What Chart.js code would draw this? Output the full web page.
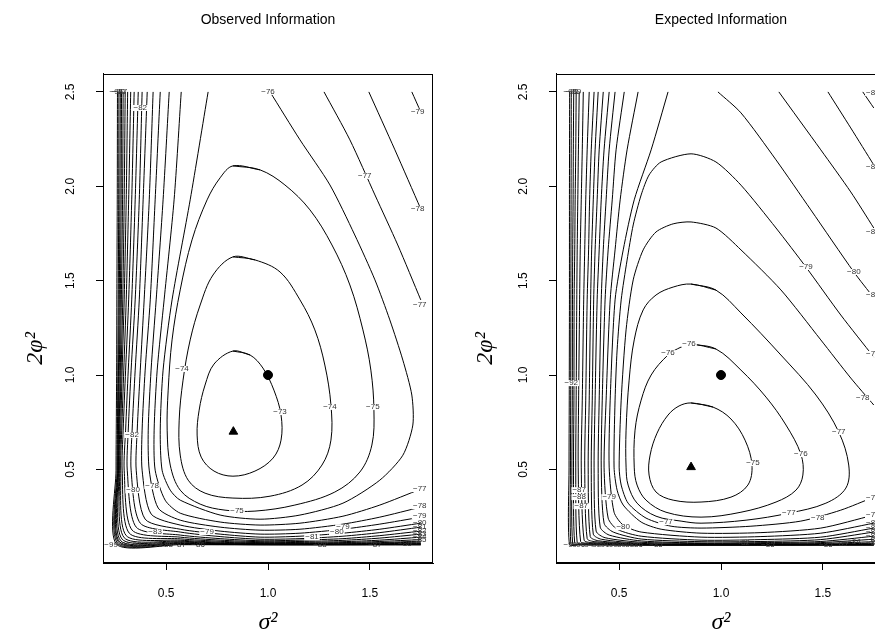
<!DOCTYPE html>
<html lang="en">
<head>
<meta charset="UTF-8">
<title>Observed vs Expected Information</title>
<style>
  html, body { margin: 0; padding: 0; background: #fff; overflow: hidden; }
  #wrap { position: relative; width: 875px; height: 639px; overflow: hidden; }
  .panel { position: absolute; top: 0; height: 639px; }
  #obsBox { left: 0; width: 460px; }
  #expBox { left: 460px; width: 440px; }
</style>
</head>
<body>
<div id="wrap">
  <div class="panel" id="obsBox"><canvas id="obsChart" width="460" height="639"></canvas></div>
  <div class="panel" id="expBox"><canvas id="expChart" width="440" height="639"></canvas></div>
</div>
<script src="https://cdn.jsdelivr.net/npm/chart.js@4.4.1/dist/chart.umd.min.js"></script>
<script>
// axis ticks
const xTicks = [0.5, 1.0, 1.5];
const yTicks = [0.5, 1.0, 1.5, 2.0, 2.5];

// maxima (triangle) and true value (circle)
const obsMax = [0.83, 0.70];
const expMax = [0.853, 0.512];
const truth = [1.0, 1.0];

// ---- Observed information: contour lines, [sigma^2, 2phi^2] ----
const obs73 = [[0.828,1.127],[0.912,1.106],[0.975,1.037],[1.029,0.920],[1.064,0.788],[1.064,0.655],[1.025,0.560],[0.936,0.491],[0.828,0.464],[0.735,0.491],[0.672,0.565],[0.652,0.682],[0.662,0.814],[0.691,0.947],[0.735,1.058]];
const obs74 = [[0.828,1.626],[0.936,1.610],[1.059,1.546],[1.157,1.398],[1.230,1.239],[1.279,1.053],[1.309,0.841],[1.309,0.655],[1.265,0.523],[1.167,0.417],[1.010,0.358],[0.828,0.348],[0.691,0.374],[0.608,0.443],[0.569,0.576],[0.564,0.761],[0.583,0.973],[0.618,1.186],[0.667,1.371],[0.730,1.530]];
const obs75 = [[0.828,2.108],[0.961,2.087],[1.083,2.007],[1.206,1.875],[1.314,1.689],[1.402,1.477],[1.466,1.239],[1.505,1.026],[1.520,0.814],[1.510,0.629],[1.451,0.486],[1.328,0.380],[1.132,0.311],[0.936,0.279],[0.789,0.284],[0.667,0.316],[0.569,0.390],[0.520,0.523],[0.505,0.708],[0.510,0.920],[0.529,1.186],[0.569,1.451],[0.627,1.716],[0.701,1.928],[0.765,2.045]];
const obs76 = [[0.706,2.5],[0.618,1.928],[0.529,1.398],[0.485,1.026],[0.471,0.708],[0.480,0.496],[0.520,0.390],[0.569,0.337],[0.765,0.258],[0.961,0.236],[1.157,0.258],[1.368,0.321],[1.549,0.443],[1.662,0.575],[1.711,0.735],[1.706,0.894],[1.662,1.079],[1.598,1.292],[1.525,1.504],[1.426,1.742],[1.304,2.007],[1.157,2.246],[1.010,2.5]];
const obs77a = [[1.275,2.5],[1.402,2.246],[1.525,1.954],[1.637,1.689],[1.75,1.398]];
const obs77b = [[0.574,2.5],[0.539,1.928],[0.490,1.398],[0.456,1.026],[0.441,0.708],[0.446,0.496],[0.495,0.337],[0.569,0.268],[0.765,0.221],[0.961,0.205],[1.157,0.215],[1.368,0.252],[1.549,0.311],[1.75,0.396]];
const obs78a = [[1.495,2.5],[1.623,2.193],[1.75,1.880]];
const obs78b = [[0.515,2.5],[0.485,1.928],[0.451,1.398],[0.426,1.026],[0.412,0.708],[0.417,0.496],[0.461,0.295],[0.569,0.231],[0.765,0.194],[0.961,0.178],[1.157,0.183],[1.368,0.210],[1.549,0.247],[1.75,0.300]];
const obs79a = [[1.706,2.5],[1.75,2.394]];
const obs79b = [[0.471,2.5],[0.446,1.928],[0.422,1.398],[0.397,1.026],[0.382,0.708],[0.382,0.496],[0.426,0.264],[0.569,0.205],[0.765,0.173],[0.961,0.157],[1.157,0.162],[1.368,0.183],[1.549,0.210],[1.75,0.247]];
const obs80 = [[0.436,2.5],[0.417,1.928],[0.392,1.398],[0.373,1.026],[0.358,0.708],[0.353,0.496],[0.397,0.236],[0.569,0.183],[0.765,0.157],[0.961,0.141],[1.157,0.146],[1.368,0.162],[1.549,0.183],[1.75,0.215]];
const obs81 = [[0.407,2.5],[0.387,1.928],[0.368,1.398],[0.348,1.026],[0.333,0.708],[0.328,0.496],[0.373,0.215],[0.569,0.168],[0.765,0.144],[0.961,0.130],[1.157,0.133],[1.368,0.146],[1.549,0.165],[1.75,0.194]];
const obs82 = [[0.382,2.5],[0.368,1.928],[0.348,1.398],[0.328,1.026],[0.314,0.708],[0.309,0.496],[0.353,0.194],[0.569,0.152],[0.765,0.133],[0.961,0.122],[1.157,0.125],[1.368,0.133],[1.549,0.149],[1.75,0.173]];
const obs83 = [[0.363,2.5],[0.348,1.928],[0.331,1.398],[0.314,1.026],[0.301,0.708],[0.294,0.496],[0.333,0.178],[0.569,0.141],[0.765,0.125],[0.961,0.117],[1.157,0.118],[1.368,0.124],[1.549,0.136],[1.75,0.157]];
const obs84 = [[0.343,2.5],[0.331,1.928],[0.316,1.398],[0.301,1.026],[0.289,0.708],[0.284,0.496],[0.319,0.162],[0.569,0.132],[0.765,0.119],[0.961,0.112],[1.157,0.113],[1.368,0.117],[1.549,0.125],[1.75,0.141]];
const obs85 = [[0.326,2.5],[0.316,1.928],[0.304,1.398],[0.292,1.026],[0.282,0.708],[0.277,0.496],[0.304,0.149],[0.569,0.125],[0.765,0.114],[0.961,0.109],[1.157,0.109],[1.368,0.112],[1.549,0.118],[1.75,0.128]];
const obs86 = [[0.311,2.5],[0.304,1.928],[0.294,1.398],[0.284,1.026],[0.277,0.708],[0.272,0.496],[0.294,0.138],[0.569,0.120],[0.765,0.110],[0.961,0.107],[1.157,0.107],[1.368,0.109],[1.549,0.112],[1.75,0.120]];
const obs87 = [[0.299,2.5],[0.294,1.928],[0.287,1.398],[0.279,1.026],[0.272,0.708],[0.269,0.496],[0.284,0.130],[0.569,0.116],[0.765,0.108],[0.961,0.104],[1.157,0.104],[1.368,0.106],[1.549,0.109],[1.75,0.115]];
const obs88 = [[0.289,2.5],[0.286,1.928],[0.280,1.398],[0.275,1.026],[0.269,0.708],[0.266,0.496],[0.277,0.122],[0.569,0.112],[0.765,0.106],[0.961,0.103],[1.157,0.103],[1.368,0.104],[1.549,0.106],[1.75,0.110]];
const obs89 = [[0.281,2.5],[0.279,1.928],[0.275,1.398],[0.270,1.026],[0.266,0.708],[0.264,0.496],[0.271,0.117],[0.569,0.109],[0.765,0.104],[0.961,0.102],[1.368,0.102],[1.549,0.104],[1.75,0.107]];
const obs90 = [[0.275,2.5],[0.273,1.928],[0.270,1.398],[0.266,1.026],[0.264,0.708],[0.262,0.496],[0.267,0.113],[0.569,0.107],[0.765,0.103],[0.961,0.101],[1.368,0.101],[1.549,0.102],[1.75,0.104]];
const obs93 = [[0.268,2.5],[0.267,1.928],[0.265,1.398],[0.263,1.026],[0.261,0.708],[0.259,0.496],[0.262,0.108],[0.569,0.103],[0.961,0.101],[1.75,0.101]];
const obs97 = [[0.261,2.5],[0.260,1.928],[0.258,1.398],[0.257,1.026],[0.255,0.708],[0.254,0.496],[0.256,0.104],[0.569,0.101],[1.75,0.1]];

const obsLabels = [[1.059,0.804,'−73'],[1.304,0.831,'−74'],[0.578,1.032,'−74'],[1.515,0.831,'−75'],[0.848,0.279,'−75'],
  [1.0,2.5,'−76'],[1.475,2.055,'−77'],[1.745,1.371,'−77'],[1.735,1.880,'−78'],[1.735,2.394,'−79'],
  [0.373,2.415,'−82'],[0.333,0.682,'−82'],[0.431,0.411,'−78'],[0.338,0.390,'−80'],[0.701,0.168,'−79'],
  [1.368,0.194,'−79'],[1.338,0.168,'−80'],[1.216,0.141,'−81'],[0.446,0.168,'−83'],
  [1.745,0.396,'−77'],[1.745,0.305,'−78'],[1.745,0.252,'−79']];
const obsCrowdLabels = [[1.745,0.215,'−80'],[1.745,0.194,'−81'],[1.745,0.173,'−82'],[1.745,0.157,'−83'],[1.745,0.141,'−84'],[1.745,0.125,'−85'],
  [1.255,0.099,'−88'],[1.525,0.100,'−87'],[1.672,0.108,'−86'],
  [0.23,0.1,'−99'],[0.29,0.1,'−96'],[0.345,0.1,'−93'],[0.40,0.1,'−91'],[0.45,0.1,'−90'],[0.50,0.1,'−88'],[0.564,0.1,'−87'],[0.657,0.1,'−86'],
  [0.255,2.5,'−95'],[0.265,2.5,'−90'],[0.275,2.5,'−87']];

// ---- Expected information: contour lines ----
const exp75 = [[0.853,0.852],[0.961,0.830],[1.049,0.767],[1.118,0.655],[1.152,0.523],[1.132,0.417],[1.049,0.353],[0.902,0.327],[0.765,0.337],[0.681,0.380],[0.647,0.470],[0.652,0.576],[0.686,0.692],[0.740,0.788],[0.794,0.836]];
const exp76 = [[0.853,1.164],[0.975,1.138],[1.098,1.026],[1.221,0.883],[1.319,0.735],[1.392,0.581],[1.402,0.470],[1.368,0.390],[1.270,0.327],[1.098,0.273],[0.902,0.247],[0.730,0.273],[0.632,0.337],[0.588,0.417],[0.574,0.512],[0.578,0.708],[0.608,0.867],[0.657,1.0],[0.740,1.106],[0.804,1.148]];
const exp77 = [[0.853,1.482],[0.975,1.450],[1.098,1.329],[1.294,1.106],[1.466,0.894],[1.578,0.698],[1.627,0.523],[1.613,0.401],[1.515,0.321],[1.333,0.268],[1.123,0.231],[0.902,0.215],[0.804,0.226],[0.681,0.252],[0.588,0.321],[0.544,0.417],[0.534,0.512],[0.534,0.708],[0.549,0.973],[0.574,1.186],[0.618,1.345],[0.681,1.424],[0.765,1.466]];
const exp78 = [[1.75,0.841],[1.637,0.984],[1.490,1.186],[1.294,1.451],[1.098,1.663],[0.975,1.779],[0.853,1.811],[0.765,1.801],[0.681,1.758],[0.618,1.663],[0.569,1.504],[0.534,1.239],[0.510,0.867],[0.500,0.512],[0.510,0.417],[0.544,0.321],[0.632,0.242],[0.755,0.199],[0.902,0.189],[1.147,0.199],[1.392,0.226],[1.588,0.284],[1.75,0.353]];
const exp79 = [[1.75,1.095],[1.588,1.318],[1.417,1.572],[1.270,1.779],[1.098,2.006],[0.975,2.129],[0.853,2.172],[0.706,2.129],[0.647,2.060],[0.608,1.954],[0.569,1.795],[0.539,1.609],[0.510,1.398],[0.490,1.133],[0.480,0.867],[0.475,0.512],[0.490,0.390],[0.520,0.311],[0.608,0.221],[0.706,0.183],[0.902,0.162],[1.196,0.165],[1.490,0.189],[1.75,0.258]];
const exp80a = [[0.985,2.5],[1.098,2.389],[1.270,2.140],[1.441,1.875],[1.652,1.546],[1.75,1.409]];
const exp80b = [[0.740,2.5],[0.657,2.193],[0.574,1.928],[0.520,1.663],[0.480,1.398],[0.456,0.867],[0.451,0.512],[0.475,0.273],[0.520,0.205],[0.608,0.168],[0.902,0.141],[1.196,0.144],[1.490,0.162],[1.75,0.215]];
const exp81a = [[1.284,2.5],[1.490,2.193],[1.637,1.970],[1.75,1.779]];
const exp81b = [[0.593,2.5],[0.539,2.193],[0.505,1.928],[0.480,1.663],[0.456,1.398],[0.436,0.867],[0.426,0.512],[0.446,0.242],[0.490,0.183],[0.608,0.146],[0.902,0.125],[1.196,0.128],[1.490,0.141],[1.75,0.189]];
const exp82a = [[1.525,2.5],[1.637,2.309],[1.75,2.113]];
const exp82b = [[0.525,2.5],[0.485,2.193],[0.466,1.928],[0.446,1.663],[0.431,1.398],[0.417,0.867],[0.412,0.512],[0.426,0.215],[0.471,0.168],[0.608,0.131],[0.902,0.117],[1.196,0.118],[1.490,0.128],[1.75,0.168]];
const exp83a = [[1.696,2.5],[1.75,2.415]];
const exp83b = [[0.480,2.5],[0.451,2.193],[0.436,1.928],[0.422,1.663],[0.412,1.398],[0.402,0.867],[0.397,0.512],[0.407,0.194],[0.451,0.152],[0.608,0.121],[0.902,0.110],[1.196,0.112],[1.490,0.118],[1.75,0.146]];
const exp84 = [[0.451,2.5],[0.426,2.193],[0.412,1.928],[0.402,1.663],[0.392,1.398],[0.382,0.867],[0.377,0.512],[0.387,0.173],[0.431,0.138],[0.608,0.114],[0.902,0.107],[1.196,0.107],[1.490,0.112],[1.75,0.130]];
const exp85 = [[0.422,2.5],[0.402,2.193],[0.392,1.928],[0.382,1.663],[0.375,1.398],[0.368,0.867],[0.363,0.512],[0.373,0.157],[0.412,0.130],[0.608,0.108],[0.902,0.104],[1.196,0.104],[1.490,0.107],[1.75,0.117]];
const exp86 = [[0.397,2.5],[0.382,2.193],[0.373,1.928],[0.365,1.663],[0.360,1.398],[0.353,0.867],[0.348,0.512],[0.358,0.144],[0.397,0.122],[0.608,0.105],[0.902,0.102],[1.196,0.102],[1.490,0.104],[1.75,0.109]];
const exp87 = [[0.377,2.5],[0.363,2.193],[0.355,1.928],[0.350,1.663],[0.343,1.398],[0.336,0.867],[0.331,0.512],[0.343,0.133],[0.382,0.117],[0.608,0.103],[0.902,0.101],[1.196,0.101],[1.490,0.102],[1.75,0.105]];
const exp88 = [[0.353,2.5],[0.343,2.193],[0.336,1.928],[0.331,1.663],[0.326,1.398],[0.319,0.867],[0.314,0.512],[0.328,0.125],[0.368,0.112],[0.608,0.102],[0.902,0.101],[1.75,0.103]];
const exp89 = [[0.324,2.5],[0.319,2.193],[0.314,1.928],[0.309,1.663],[0.306,1.398],[0.301,0.867],[0.299,0.512],[0.311,0.117],[0.348,0.108],[0.608,0.101],[1.75,0.102]];
const exp90 = [[0.304,2.5],[0.300,2.193],[0.297,1.928],[0.294,1.663],[0.292,1.398],[0.289,0.867],[0.287,0.512],[0.294,0.112],[0.328,0.105],[0.608,0.101],[1.75,0.101]];
const exp91 = [[0.289,2.5],[0.287,2.193],[0.284,1.928],[0.282,1.663],[0.279,1.398],[0.278,0.867],[0.276,0.512],[0.282,0.108],[0.314,0.103],[0.608,0.1],[1.75,0.1]];
const exp92 = [[0.277,2.5],[0.275,2.193],[0.274,1.928],[0.272,1.663],[0.271,1.398],[0.270,0.867],[0.268,0.512],[0.272,0.105],[0.304,0.102],[0.608,0.1],[1.75,0.1]];
const exp95 = [[0.265,2.5],[0.264,1.928],[0.263,1.398],[0.262,0.867],[0.261,0.512],[0.263,0.103],[0.29,0.101],[1.75,0.1]];
const exp99 = [[0.257,2.5],[0.256,1.928],[0.256,1.398],[0.255,0.867],[0.254,0.512],[0.256,0.101],[0.3,0.1],[1.75,0.1]];

const expLabels = [[1.157,0.533,'−75'],[1.392,0.581,'−76'],[0.843,1.164,'−76'],[0.740,1.116,'−76'],
  [1.578,0.698,'−77'],[1.333,0.268,'−77'],[0.730,0.221,'−77'],[1.696,0.878,'−78'],[1.475,0.242,'−78'],
  [1.417,1.572,'−79'],[0.451,0.353,'−79'],[1.652,1.546,'−80'],[0.520,0.194,'−80'],
  [1.745,2.495,'−83'],[1.745,2.103,'−82'],[1.745,1.758,'−81'],[1.745,1.424,'−80'],[1.745,1.112,'−79'],
  [1.745,0.348,'−78'],[1.745,0.258,'−79'],[0.304,0.390,'−87'],[0.304,0.353,'−88'],[0.314,0.305,'−87'],[0.265,0.957,'−92']];
const expCrowdLabels = [[1.745,0.215,'−80'],[1.745,0.189,'−81'],[1.745,0.168,'−82'],[1.745,0.146,'−83'],[1.745,0.128,'−84'],[1.745,0.112,'−85'],
  [1.108,0.113,'−82'],[1.230,0.099,'−85'],[1.515,0.099,'−85'],[1.588,0.108,'−85'],[1.652,0.118,'−84'],
  [0.26,0.1,'−99'],[0.30,0.1,'−96'],[0.34,0.1,'−94'],[0.38,0.1,'−92'],[0.42,0.1,'−91'],[0.46,0.1,'−90'],[0.50,0.1,'−89'],[0.54,0.1,'−88'],[0.583,0.1,'−86'],[0.681,0.1,'−85'],
  [0.26,2.5,'−95'],[0.27,2.5,'−91'],[0.28,2.5,'−89']];

const FONT = '"Liberation Sans", Arial, Helvetica, sans-serif';
const SERIF = '"Liberation Serif", "DejaVu Serif", serif';

function contour(arr, closed) {
  const pts = closed ? arr.concat([arr[0], arr[1]]) : arr;
  return {
    data: pts.map(p => ({ x: p[0], y: p[1] })),
    showLine: true, borderColor: '#000', backgroundColor: '#000',
    borderWidth: 1, pointRadius: 0, tension: closed ? 0.35 : 0.25, fill: false
  };
}

function marker(p, style, r) {
  return { data: [{ x: p[0], y: p[1] }], showLine: false, pointStyle: style,
    pointRadius: r, backgroundColor: '#000', borderColor: '#000', borderWidth: 1 };
}

// box round the plotting region
const frame = {
  id: 'frame',
  afterDraw(chart) {
    const { ctx, chartArea: a } = chart;
    ctx.save();
    ctx.strokeStyle = '#000';
    ctx.lineWidth = 1;
    ctx.strokeRect(Math.round(a.left) + 0.5, Math.round(a.top) + 0.5,
      Math.round(a.right - a.left) - 1, Math.round(a.bottom - a.top) - 1);
    ctx.restore();
  }
};

// y tick labels and y title, turned like in R
const yLabels = {
  id: 'yLabels',
  afterDraw(chart, args, opts) {
    const s = chart.scales.y, ctx = chart.ctx, a = chart.chartArea;
    ctx.save();
    ctx.font = '12px ' + FONT;
    ctx.fillStyle = '#000';
    ctx.textAlign = 'center';
    ctx.textBaseline = 'middle';
    yTicks.forEach(v => {
      ctx.save();
      ctx.translate(s.right - 32, s.getPixelForValue(v));
      ctx.rotate(-Math.PI / 2);
      ctx.fillText(v.toFixed(1), 0, 0);
      ctx.restore();
    });
    ctx.font = 'italic 24px ' + SERIF;
    ctx.translate(opts.titleX, (a.top + a.bottom) / 2 + 30);
    ctx.rotate(-Math.PI / 2);
    ctx.fillText('2φ²', 0, 0);
    ctx.restore();
  }
};

// level labels placed on the lines
const levelLabels = {
  id: 'levelLabels',
  afterDatasetsDraw(chart, args, opts) {
    const { ctx, chartArea: a } = chart;
    const sx = chart.scales.x, sy = chart.scales.y;
    ctx.save();
    ctx.beginPath();
    ctx.rect(a.left, a.top, a.right - a.left, a.bottom - a.top);
    ctx.clip();
    ctx.font = '8px ' + FONT;
    ctx.textAlign = 'center';
    ctx.textBaseline = 'middle';
    opts.items.forEach(([vx, vy, t]) => {
      const px = sx.getPixelForValue(vx), py = sy.getPixelForValue(vy);
      const w = ctx.measureText(t).width;
      ctx.fillStyle = '#fff';
      ctx.fillRect(px - w / 2 - 1, py - 3, w + 2, 6);
    });
    ctx.fillStyle = '#333';
    opts.items.concat(opts.crowd).forEach(([vx, vy, t]) => {
      ctx.fillText(t, sx.getPixelForValue(vx), sy.getPixelForValue(vy));
    });
    ctx.restore();
  }
};

function makeChart(id, title, lines, labels, crowd, maxPt, yWidth, padRight, titleX) {
  const datasets = lines.map(l => contour(l[0], l[1]));
  datasets.push(marker(maxPt, 'triangle', 5));
  datasets.push(marker(truth, 'circle', 4.5));
  return new Chart(document.getElementById(id), {
    type: 'scatter',
    data: { datasets: datasets },
    options: {
      responsive: false,
      animation: false,
      devicePixelRatio: 1,
      layout: { padding: { left: 0, right: padRight, top: 0, bottom: 0 } },
      plugins: {
        legend: { display: false },
        tooltip: { enabled: false },
        title: {
          display: true, text: title, fullSize: false, color: '#000',
          font: { size: 14, family: FONT, weight: 'normal' },
          padding: { top: 12, bottom: 45 }
        },
        levelLabels: { items: labels, crowd: crowd },
        yLabels: { titleX: titleX }
      },
      scales: {
        x: {
          type: 'linear', min: 0.19, max: 1.81,
          afterBuildTicks: s => { s.ticks = xTicks.map(v => ({ value: v })); },
          afterFit: s => { s.height = 76; },
          grid: { drawOnChartArea: false, drawTicks: true, tickLength: 7, color: '#000' },
          border: { display: true, color: '#000' },
          ticks: { color: '#000', font: { size: 12, family: FONT }, padding: 16,
            maxRotation: 0, autoSkip: false, callback: v => Number(v).toFixed(1) },
          title: { display: true, text: 'σ²', color: '#000',
            font: { size: 24, family: SERIF, style: 'italic' }, padding: { top: 0, bottom: 2 } }
        },
        y: {
          type: 'linear', min: 0.004, max: 2.596,
          afterBuildTicks: s => { s.ticks = yTicks.map(v => ({ value: v })); },
          afterFit: s => { s.width = yWidth; },
          grid: { drawOnChartArea: false, drawTicks: true, tickLength: 7, color: '#000' },
          border: { display: true, color: '#000' },
          ticks: { display: false },
          title: { display: false }
        }
      }
    },
    plugins: [frame, yLabels, levelLabels]
  });
}

const obsLines = [[obs73, true], [obs74, true], [obs75, true], [obs76, false], [obs77a, false], [obs77b, false],
  [obs78a, false], [obs78b, false], [obs79a, false], [obs79b, false], [obs80, false], [obs81, false],
  [obs82, false], [obs83, false], [obs84, false], [obs85, false], [obs86, false], [obs87, false],
  [obs88, false], [obs89, false], [obs90, false], [obs93, false], [obs97, false]];
const expLines = [[exp75, true], [exp76, true], [exp77, true], [exp78, false], [exp79, false],
  [exp80a, false], [exp80b, false], [exp81a, false], [exp81b, false], [exp82a, false], [exp82b, false],
  [exp83a, false], [exp83b, false], [exp84, false], [exp85, false], [exp86, false], [exp87, false],
  [exp88, false], [exp89, false], [exp90, false], [exp91, false], [exp92, false], [exp95, false], [exp99, false]];

makeChart('obsChart', 'Observed Information', obsLines, obsLabels, obsCrowdLabels, obsMax, 103, 27, 36);
makeChart('expChart', 'Expected Information', expLines, expLabels, expCrowdLabels, expMax, 96, 14, 26);
</script>
</body>
</html>
